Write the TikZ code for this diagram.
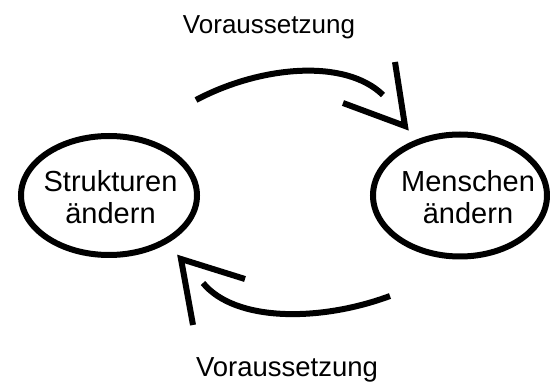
\documentclass[tikz,border=0pt]{standalone}
\usepackage{fontspec}
\setmainfont{Liberation Sans}
\usetikzlibrary{shapes.geometric}
\begin{document}
\begin{tikzpicture}[x=1pt,y=-1pt,
  oval/.style={draw, ellipse, line width=6pt, inner sep=0pt},
  lbl/.style={align=center, font=\fontsize{29}{32}\selectfont},
  cond/.style={font=\fontsize{26}{30}\selectfont, anchor=base},
  curv/.style={line width=6pt},
  head/.style={line width=6pt, line join=miter, miter limit=10}]
\useasboundingbox (0,0) rectangle (550,385);
\node[oval, minimum width=176pt, minimum height=119pt] (L) at (109,195.5) {};
\node[lbl] (Lt) at (110.5,197) {Strukturen\\ändern};
\node[oval, minimum width=174pt, minimum height=122pt] (R) at (460,195.5) {};
\node[lbl] (Rt) at (468,197) {Menschen\\ändern};
\node[cond] (top) at (269,33.5) {Voraussetzung};
\node[cond, font=\fontsize{27.5}{31}\selectfont] (bot) at (287,377) {Voraussetzung};
% top arrow
\coordinate (a1) at (196,100);
\coordinate (a2) at (383,95);
\coordinate (at) at (405,126);
\coordinate (aw1) at (343,103);
\coordinate (aw2) at (395,62);
\draw[curv] (a1) .. controls (260,66) and (345,58) .. (a2);
\draw[head] (aw1) -- (at) -- (aw2);
% bottom arrow
\coordinate (b1) at (390,296);
\coordinate (b2) at (203,283);
\coordinate (bt) at (181,259);
\coordinate (bw1) at (193,325);
\coordinate (bw2) at (245,279);
\draw[curv] (b1) .. controls (320,322) and (235,322) .. (b2);
\draw[head] (bw1) -- (bt) -- (bw2);
\end{tikzpicture}
\end{document}
